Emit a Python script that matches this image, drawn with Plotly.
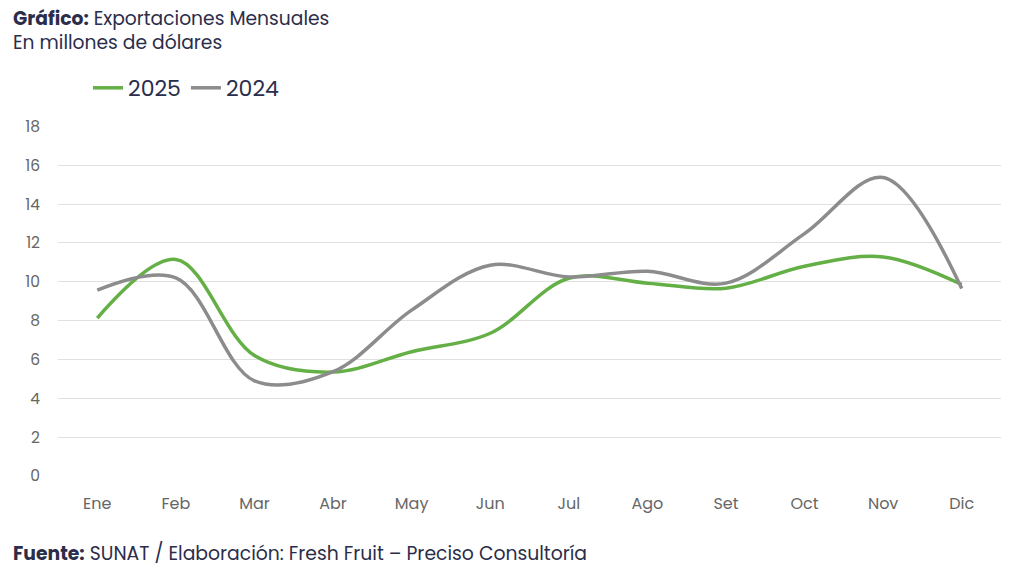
import plotly.graph_objects as go

months = ["Ene", "Feb", "Mar", "Abr", "May", "Jun", "Jul", "Ago", "Set", "Oct", "Nov", "Dic"]
exp_2025 = [8.13, 11.15, 6.2, 5.35, 6.4, 7.35, 10.18, 9.93, 9.67, 10.8, 11.28, 9.86]
exp_2024 = [9.57, 10.2, 4.9, 5.37, 8.54, 10.85, 10.25, 10.54, 9.93, 12.48, 15.37, 9.65]
y_ticks = [0, 2, 4, 6, 8, 10, 12, 14, 16, 18]

FONT = "Poppins, Inter, 'Noto Sans', sans-serif"
NAVY = "#2b2d4a"

fig = go.Figure()
fig.add_trace(go.Scatter(x=months, y=exp_2025, name="2025", mode="lines",
                         line=dict(color="#64b046", width=3.5, shape="spline", smoothing=1)))
fig.add_trace(go.Scatter(x=months, y=exp_2024, name="2024", mode="lines",
                         line=dict(color="#8c8c8c", width=3.5, shape="spline", smoothing=1)))

L, R, T, B = 58, 23, 126, 102
W, H = 1024, 578
pw = W - L - R
ph = H - T - B

def px(x):
    return (x - L) / pw

def py(y):
    return (H - B - y) / ph

fig.update_layout(
    width=W, height=H,
    margin=dict(l=L, r=R, t=T, b=B),
    paper_bgcolor="white", plot_bgcolor="white",
    font=dict(family=FONT, color="#666666"),
    showlegend=True,
    legend=dict(orientation="h", x=px(88), y=py(88), xanchor="left", yanchor="middle",
                font=dict(size=22, color=NAVY), itemwidth=30, tracegroupgap=0),
    xaxis=dict(type="category", showgrid=False, showline=False, zeroline=False,
               tickfont=dict(size=16, color="#666666"), ticks="", ticklen=0,
               ticklabelstandoff=16, range=[-0.5, 11.5]),
    yaxis=dict(range=[0, 18.02], tickvals=y_ticks, showgrid=True, gridcolor="#e0e0e0",
               gridwidth=1, zeroline=False, showline=False,
               tickfont=dict(size=15.5, color="#666666"), ticks="", ticklabelstandoff=17),
    annotations=[
        dict(xref="paper", yref="paper", x=px(11), y=py(3), xanchor="left", yanchor="top",
             align="left", showarrow=False, font=dict(size=18.7, color=NAVY, family=FONT),
             text="<b>Gráfico:</b> Exportaciones Mensuales<br>En millones de dólares"),
        dict(xref="paper", yref="paper", x=px(11), y=py(553), xanchor="left", yanchor="middle",
             showarrow=False, font=dict(size=18.8, color=NAVY, family=FONT),
             text="<b>Fuente:</b> SUNAT / Elaboración: Fresh Fruit – Preciso Consultoría"),
    ],
)

fig.write_html("out.html", config={"displayModeBar": False},
               post_script="document.body.style.margin='0';")
